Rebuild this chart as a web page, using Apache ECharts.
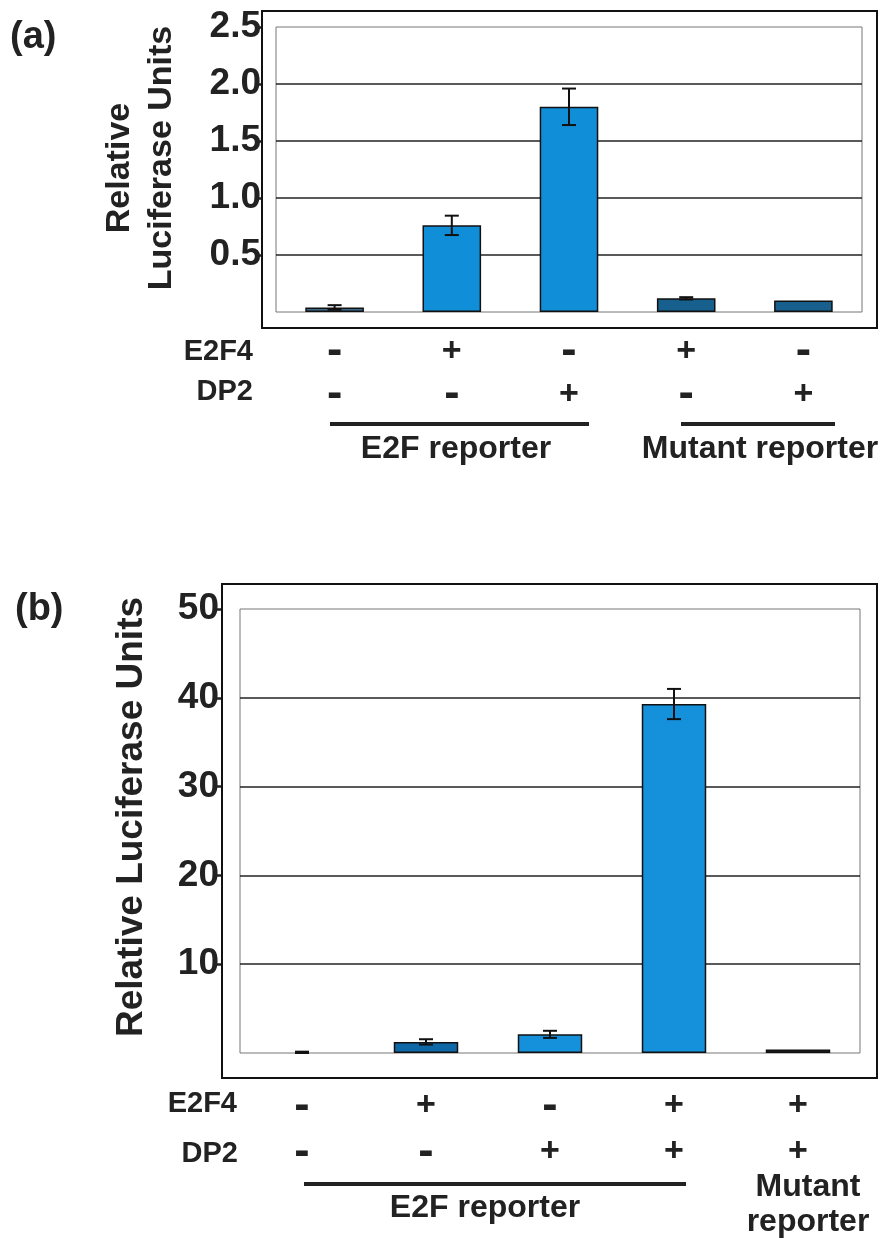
<!DOCTYPE html>
<html>
<head>
<meta charset="UTF-8">
<title>Luciferase</title>
<script src="https://cdn.jsdelivr.net/npm/echarts@6/dist/echarts.min.js"></script>
<style>
body{
margin:0;
background:#fff;
}
#chart{
width:884px;
height:1238px;
}
</style>
</head>
<body>
<div id="chart"></div>
<script>

// panel (a)
const aE2F4 = ['-', '+', '-', '+', '-']
const aDP2 = ['-', '-', '+', '-', '+']
const aValues = [0.04, 0.76, 1.8, 0.12, 0.1]
const aErrors = [0.02, 0.085, 0.16, 0.01, 0]
const aColors = ['#3b6b88', '#118ed8', '#118ed8', '#175f8c', '#175f8c']
const aTicks = [0.5, 1.0, 1.5, 2.0, 2.5]

// panel (b)
const bE2F4 = ['-', '+', '-', '+', '+']
const bDP2 = ['-', '-', '+', '+', '+']
const bValues = [0, 1.25, 2.1, 39.3, 0.4]
const bErrors = [0.15, 0.3, 0.4, 1.7, 0]
const bColors = ['#1d4f70', '#0e68a8', '#1590da', '#1590da', '#222222']
const bTicks = [10, 20, 30, 40, 50]

const FONT = "'Liberation Sans', Arial, sans-serif"

const chart = echarts.init(document.getElementById('chart'))

function mark(s){ return s === '-' ? '{m|-}' : '{p|+}' }

function signs(e2f4, dp2){
 return function(v, i){ return mark(e2f4[i]) + '\n' + mark(dp2[i]) }
}

function signRich(lh){
 return {
  m:{ fontSize:46, fontWeight:'bold', color:'#222', lineHeight:lh, fontFamily:FONT },
  p:{ fontSize:34, fontWeight:'bold', color:'#222', lineHeight:lh, fontFamily:FONT }
 }
}

function errItem(params, api){
 const x = api.value(0)
 const v = api.value(1)
 const e = api.value(2)
 if(!e) return
 const top = api.coord([x, v + e])
 const bot = api.coord([x, Math.max(0, v - e)])
 const w = 7
 const st = { stroke:'#111', lineWidth:2 }
 return {
  type:'group',
  children:[
   { type:'line', shape:{ x1:top[0], y1:top[1], x2:bot[0], y2:bot[1] }, style:st },
   { type:'line', shape:{ x1:top[0]-w, y1:top[1], x2:top[0]+w, y2:top[1] }, style:st },
   { type:'line', shape:{ x1:bot[0]-w, y1:bot[1], x2:bot[0]+w, y2:bot[1] }, style:st }
  ]
 }
}

function barData(vals, colors){
 return vals.map((v, i) => ({
  value:v,
  itemStyle:{ color:colors[i], borderWidth: v > 0 ? 1.5 : 0 }
 }))
}

function errData(vals, errs){
 return vals.map((v, i) => [i, v, errs[i]])
}

const cats = [0, 1, 2, 3, 4]

chart.setOption({
 animation:false,
 textStyle:{ fontFamily:FONT },
 grid:[
  { left:276, right:22, top:27, height:285, show:true, borderColor:'#777', borderWidth:1 },
  { left:240, right:24, top:609, height:444, show:true, borderColor:'#777', borderWidth:1 }
 ],
 xAxis:[
  {
   gridIndex:0, type:'category', data:cats,
   axisLine:{ show:false }, axisTick:{ show:false },
   axisLabel:{ formatter:signs(aE2F4, aDP2), rich:signRich(43), lineHeight:43, margin:18 }
  },
  {
   gridIndex:1, type:'category', data:cats,
   axisLine:{ show:false }, axisTick:{ show:false },
   axisLabel:{ formatter:signs(bE2F4, bDP2), rich:signRich(46), lineHeight:46, margin:30 }
  }
 ],
 yAxis:[
  {
   gridIndex:0, type:'value', min:0, max:2.5, interval:0.5,
   offset:14,
   axisLine:{ show:false },
   axisTick:{ show:true, length:7, customValues:aTicks, lineStyle:{ color:'#222', width:2.5 } },
   axisLabel:{ customValues:aTicks, formatter:v => v.toFixed(1), fontSize:37, fontWeight:'bold', color:'#222', margin:1 },
   splitLine:{ show:true, showMinLine:true, showMaxLine:false, lineStyle:{ color:'#222', width:1.5 } }
  },
  {
   gridIndex:1, type:'value', min:0, max:50, interval:10,
   offset:18,
   axisLine:{ show:false },
   axisTick:{ show:true, length:8, customValues:bTicks, lineStyle:{ color:'#222', width:2.5 } },
   axisLabel:{ customValues:bTicks, formatter:v => String(v), fontSize:37, fontWeight:'bold', color:'#222', margin:3 },
   splitLine:{ show:true, showMinLine:true, showMaxLine:false, lineStyle:{ color:'#222', width:1.5 } }
  }
 ],
 series:[
  {
   type:'bar', xAxisIndex:0, yAxisIndex:0, barWidth:'50%',
   data:barData(aValues, aColors),
   itemStyle:{ borderColor:'#111' }
  },
  {
   type:'custom', xAxisIndex:0, yAxisIndex:0,
   renderItem:errItem, encode:{ x:0, y:1 }, z:5,
   data:errData(aValues, aErrors)
  },
  {
   type:'bar', xAxisIndex:1, yAxisIndex:1, barWidth:'52%',
   data:barData(bValues, bColors),
   itemStyle:{ borderColor:'#111' }
  },
  {
   type:'custom', xAxisIndex:1, yAxisIndex:1,
   renderItem:errItem, encode:{ x:0, y:1 }, z:5,
   data:errData(bValues, bErrors)
  }
 ],
 graphic:[
  // outer frames
  { type:'rect', shape:{ x:262, y:11, width:615, height:317 }, style:{ fill:null, stroke:'#111', lineWidth:2 }, z:10 },
  { type:'rect', shape:{ x:222, y:584, width:655, height:494 }, style:{ fill:null, stroke:'#111', lineWidth:2 }, z:10 },

  // panel letters
  { type:'text', x:10, y:38, style:{ text:'(a)', font:"bold 38px " + FONT, fill:'#222', verticalAlign:'middle' } },
  { type:'text', x:15, y:610, style:{ text:'(b)', font:"bold 38px " + FONT, fill:'#222', verticalAlign:'middle' } },

  // y titles
  { type:'text', x:120, y:168, rotation:Math.PI/2, style:{ text:'Relative', font:"bold 34px " + FONT, fill:'#222', align:'center', verticalAlign:'middle' } },
  { type:'text', x:162, y:158, rotation:Math.PI/2, style:{ text:'Luciferase Units', font:"bold 34px " + FONT, fill:'#222', align:'center', verticalAlign:'middle' } },
  { type:'text', x:132, y:817, rotation:Math.PI/2, style:{ text:'Relative Luciferase Units', font:"bold 37px " + FONT, fill:'#222', align:'center', verticalAlign:'middle' } },

  // row labels (a)
  { type:'text', x:253, y:352, style:{ text:'E2F4', font:"bold 29px " + FONT, fill:'#222', align:'right', verticalAlign:'middle' } },
  { type:'text', x:253, y:392, style:{ text:'DP2', font:"bold 29px " + FONT, fill:'#222', align:'right', verticalAlign:'middle' } },
  // row labels (b)
  { type:'text', x:237, y:1104, style:{ text:'E2F4', font:"bold 29px " + FONT, fill:'#222', align:'right', verticalAlign:'middle' } },
  { type:'text', x:238, y:1154, style:{ text:'DP2', font:"bold 29px " + FONT, fill:'#222', align:'right', verticalAlign:'middle' } },

  // brackets (a)
  { type:'line', shape:{ x1:330, y1:424, x2:589, y2:424 }, style:{ stroke:'#222', lineWidth:4 } },
  { type:'line', shape:{ x1:681, y1:424, x2:835, y2:424 }, style:{ stroke:'#222', lineWidth:4 } },
  { type:'text', x:456, y:449, style:{ text:'E2F reporter', font:"bold 32px " + FONT, fill:'#222', align:'center', verticalAlign:'middle' } },
  { type:'text', x:760, y:449, style:{ text:'Mutant reporter', font:"bold 32px " + FONT, fill:'#222', align:'center', verticalAlign:'middle' } },

  // brackets (b)
  { type:'line', shape:{ x1:304, y1:1184, x2:686, y2:1184 }, style:{ stroke:'#222', lineWidth:4 } },
  { type:'text', x:485, y:1208, style:{ text:'E2F reporter', font:"bold 32px " + FONT, fill:'#222', align:'center', verticalAlign:'middle' } },
  { type:'text', x:808, y:1187, style:{ text:'Mutant', font:"bold 32px " + FONT, fill:'#222', align:'center', verticalAlign:'middle' } },
  { type:'text', x:808, y:1222, style:{ text:'reporter', font:"bold 32px " + FONT, fill:'#222', align:'center', verticalAlign:'middle' } }
 ]
})

</script>
</body>
</html>
